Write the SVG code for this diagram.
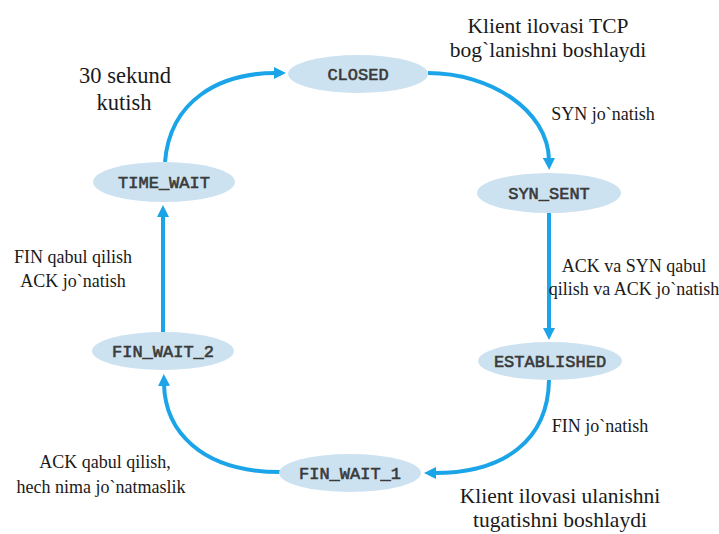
<svg xmlns="http://www.w3.org/2000/svg" width="719" height="534" viewBox="0 0 719 534">
  <style>
    .state { fill: #cce2f0; }
    .state-label { font-family: "Liberation Mono", "Courier New", monospace; font-size: 17px; font-weight: normal; fill: #3a3a3a; stroke: #3a3a3a; stroke-width: 0.6; text-anchor: middle; }
    .edge { fill: none; stroke: #1ba5e8; stroke-width: 4; }
    .note { font-family: "Liberation Serif", "Times New Roman", Times, "DejaVu Serif", serif; font-size: 18px; fill: #1a1a1a; text-anchor: middle; }
    .caption { font-family: "Liberation Serif", "Times New Roman", Times, "DejaVu Serif", serif; font-size: 21.5px; fill: #1a1a1a; text-anchor: middle; }
  </style>
  <defs>
    <marker id="arrow" viewBox="0 0 12 12" refX="2" refY="6" markerWidth="12" markerHeight="12" markerUnits="userSpaceOnUse" orient="auto">
      <path d="M0,0 L12,6 L0,12 Z" fill="#1ba5e8"/>
    </marker>
  </defs>

  <rect width="719" height="534" fill="#ffffff"/>

  <!-- transitions -->
  <g id="connectors">
    <path class="edge" d="M165,162 C170,100 220,73 276,73" marker-end="url(#arrow)"/>
    <path class="edge" d="M428,73 C490,73 548,110 549,160" marker-end="url(#arrow)"/>
    <path class="edge" d="M549,213 L549,330" marker-end="url(#arrow)"/>
    <path class="edge" d="M549,380 C548,440 505,473 434,473" marker-end="url(#arrow)"/>
    <path class="edge" d="M280,472 C200,472 165,430 164,384" marker-end="url(#arrow)"/>
    <path class="edge" d="M163,332 L163,215" marker-end="url(#arrow)"/>
  </g>

  <!-- states -->
  <g id="closed">
    <ellipse class="state" cx="358" cy="74" rx="70" ry="19"/>
    <text class="state-label" x="358" y="80">CLOSED</text>
  </g>
  <g id="syn-sent">
    <ellipse class="state" cx="549" cy="193" rx="72" ry="20"/>
    <text class="state-label" x="549" y="199">SYN_SENT</text>
  </g>
  <g id="established">
    <ellipse class="state" cx="550" cy="361" rx="72" ry="19"/>
    <text class="state-label" x="550" y="367">ESTABLISHED</text>
  </g>
  <g id="fin-wait-1">
    <ellipse class="state" cx="350" cy="473" rx="71" ry="19"/>
    <text class="state-label" x="350" y="479">FIN_WAIT_1</text>
  </g>
  <g id="fin-wait-2">
    <ellipse class="state" cx="163" cy="351" rx="71" ry="19"/>
    <text class="state-label" x="163" y="357">FIN_WAIT_2</text>
  </g>
  <g id="time-wait">
    <ellipse class="state" cx="164" cy="182" rx="71" ry="20"/>
    <text class="state-label" x="164" y="188">TIME_WAIT</text>
  </g>

  <!-- annotations -->
  <g id="labels">
    <text class="caption" x="548" y="33">Klient ilovasi TCP</text>
    <text class="caption" x="548" y="57">bog`lanishni boshlaydi</text>
    <text class="note" x="603" y="120">SYN jo`natish</text>
    <text class="note" x="634" y="272">ACK va SYN qabul</text>
    <text class="note" x="634" y="295">qilish va ACK jo`natish</text>
    <text class="note" x="600" y="432">FIN jo`natish</text>
    <text class="caption" x="560" y="503">Klient ilovasi ulanishni</text>
    <text class="caption" x="560" y="527">tugatishni boshlaydi</text>
    <text class="note" x="105" y="468">ACK qabul qilish,</text>
    <text class="note" x="101" y="493">hech nima jo`natmaslik</text>
    <text class="note" x="73" y="263">FIN qabul qilish</text>
    <text class="note" x="73" y="287">ACK jo`natish</text>
    <text class="caption" x="125" y="83" style="font-size:22.5px">30 sekund</text>
    <text class="caption" x="124" y="110" style="font-size:22.5px">kutish</text>
  </g>
</svg>
